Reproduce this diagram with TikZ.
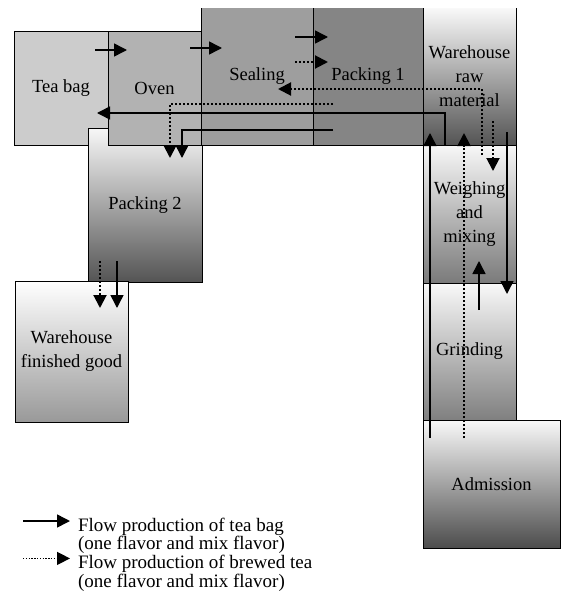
\documentclass[tikz,border=0pt]{standalone}
\usepackage{fontspec}
\setmainfont{Liberation Serif}
\usetikzlibrary{arrows.meta}

\definecolor{teafill}{gray}{0.80}
\definecolor{ovenfill}{gray}{0.70}
\definecolor{sealfill}{gray}{0.62}
\definecolor{packfill}{gray}{0.52}

\begin{document}
\begin{tikzpicture}[
    x=1pt, y=1pt,
    font=\fontsize{18.5}{24}\selectfont,
    every node/.style={align=center, inner sep=0pt, outer sep=0pt},
    box/.style={draw, line width=0.9pt},
    openbox/.style={line width=0.9pt},
    flow/.style={-{Triangle[length=13pt, width=13pt]}, line width=1.5pt},
    brew/.style={flow, dash pattern=on 2pt off 2pt, line width=2pt},
    legend/.style={align=left, font=\fontsize{19}{18.5}\selectfont}
]
    \useasboundingbox (0,0) rectangle (560,-597);

    % Nodes
    \node (teabag) [box, fill=teafill, minimum width=94pt, minimum height=114pt] at (61,-88) {Tea bag};
    \node (pack2) [box, top color=gray!6, bottom color=black!67, minimum width=114pt, minimum height=154pt] at (145,-205) {Packing 2};
    \node (oven) [box, fill=ovenfill, minimum width=93pt, minimum height=114pt] at (154.5,-88) {Oven};
    \node (seal) [openbox, fill=sealfill, minimum width=112pt, minimum height=137pt] at (257,-76.5) {Sealing};
    \node (pack1) [openbox, fill=packfill, minimum width=110pt, minimum height=137pt] at (368,-76.5) {Packing 1};
    \node (rawwh) [openbox, top color=gray!5, bottom color=black!67, minimum width=93pt, minimum height=137pt] at (469.5,-76.5) {Warehouse\\raw\\material};
    \node (weigh) [box, top color=gray!6, bottom color=black!52, minimum width=93pt, minimum height=138pt] at (469.5,-214) {Weighing\\and\\mixing};
    \node (grind) [box, top color=gray!5, bottom color=black!50, minimum width=93pt, minimum height=137pt] at (469.5,-351.5) {Grinding};
    \node (admis) [box, top color=gray!5, bottom color=black!70, minimum width=137pt, minimum height=128pt] at (491.5,-484) {Admission};
    \node (fgwh) [box, top color=white, bottom color=black!40, minimum width=113pt, minimum height=141pt] at (71.5,-351.5) {Warehouse\\finished good};

    % open tops
    \foreach \b in {seal, pack1, rawwh}
        \draw [line width=0.9pt] (\b.north west) -- (\b.south west) -- (\b.south east) -- (\b.north east);

    % Edges: tea bag
    \draw [flow] ([shift={(-13,-19)}]teabag.north east) -- ([shift={(19,-19)}]oven.north west);
    \draw [flow] ([shift={(-11,-17)}]oven.north east) -- ([shift={(21,-40)}]seal.north west);
    \draw [flow] ([shift={(-18,-29)}]seal.north east) -- ([shift={(15,-29)}]pack1.north west);
    \draw [flow] ([shift={(22,0)}]rawwh.south west) |- ([shift={(-11,32)}]teabag.south east);
    \draw [flow] ([shift={(20,15)}]pack1.south west) -| ([shift={(94,-30)}]pack2.north west);
    \draw [flow] ([shift={(-9,13)}]rawwh.south east) -- ([shift={(-9,-11)}]grind.north east);
    \draw [flow] ([shift={(7,-18)}]admis.north west) -- ([shift={(7,12)}]rawwh.south west);
    \draw [flow] ([shift={(56,-27)}]grind.north west) -- ([shift={(56,22)}]weigh.south west);
    \draw [flow] ([shift={(29,21)}]pack2.south west) -- ([shift={(102,-27)}]fgwh.north west);

    % Edges: brewed tea
    \draw [brew] ([shift={(-18,-54)}]seal.north east) -- ([shift={(15,-54)}]pack1.north west);
    \draw [brew] ([shift={(59,-10)}]weigh.north west) |- ([shift={(-35,-81)}]seal.north east);
    \draw [brew] ([shift={(20,41)}]pack1.south west) -| ([shift={(82,-30)}]pack2.north west);
    \draw [brew] ([shift={(70,24)}]rawwh.south west) -- ([shift={(70,-26)}]weigh.north west);
    \draw [brew] ([shift={(41,-18)}]admis.north west) -- ([shift={(41,12)}]rawwh.south west);
    \draw [brew] ([shift={(12,21)}]pack2.south west) -- ([shift={(85,-27)}]fgwh.north west);

    % Legend
    \node (legtea) [legend, anchor=north west] at (78,-518) {Flow production of tea bag\\(one flavor and mix flavor)};
    \node (legbrew) [legend, anchor=north west] at ([yshift=-1.5pt]legtea.south west) {Flow production of brewed tea\\(one flavor and mix flavor)};
    \draw [flow] ([shift={(-55,-3)}]legtea.north west) -- ([shift={(-8,-3)}]legtea.north west);
    \draw [brew, line width=1.4pt, dash pattern=on 1.4pt off 1.4pt] ([shift={(-55,-3)}]legbrew.north west) -- ([shift={(-8,-3)}]legbrew.north west);
\end{tikzpicture}
\end{document}
